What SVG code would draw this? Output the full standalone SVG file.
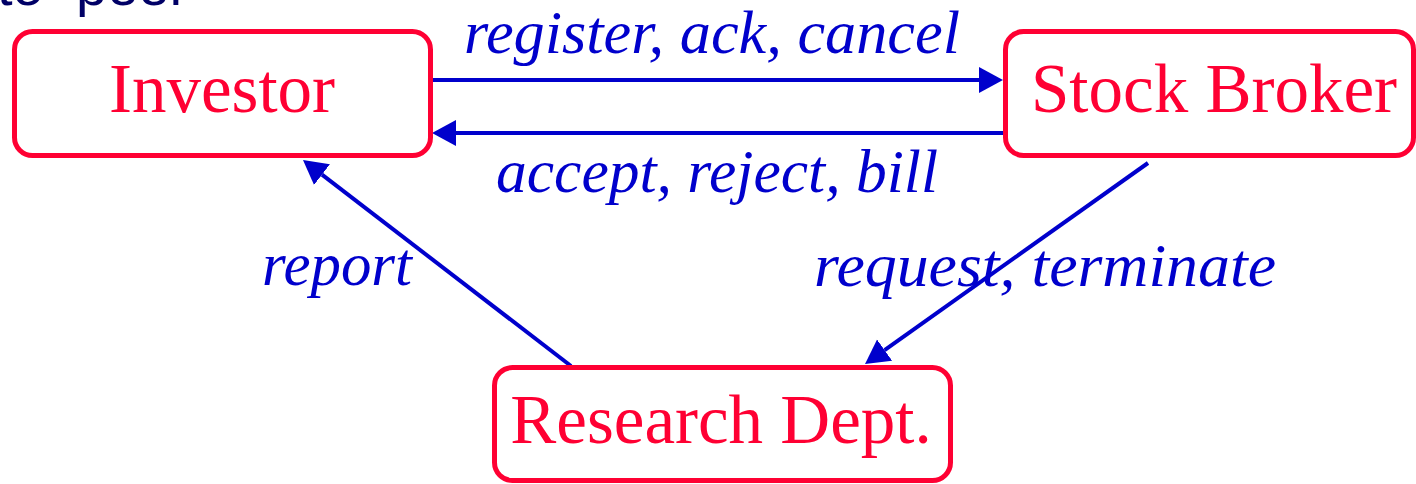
<svg xmlns="http://www.w3.org/2000/svg" width="1416" height="484" viewBox="0 0 1416 484">
  <style>
    .box { fill: #ffffff; stroke: #ff0033; stroke-width: 5; }
    .name { font-family: "Liberation Serif", "DejaVu Serif", serif; font-size: 69px; fill: #ff0033; text-anchor: middle; }
    .msg { font-family: "Liberation Serif", "DejaVu Serif", serif; font-style: italic; font-size: 62px; fill: #0000cc; text-anchor: middle; }
    .link { stroke: #0000cc; stroke-width: 4; fill: none; marker-end: url(#head); }
    .title { font-family: "Liberation Sans", Arial, sans-serif; font-size: 56px; fill: #000066; }
  </style>
  <defs>
    <marker id="head" markerUnits="userSpaceOnUse" markerWidth="26" markerHeight="28" viewBox="0 -14 26 28" refX="0" refY="0" orient="auto">
      <path d="M0,-13 L24,0 L0,13 Z" fill="#0000cc"/>
    </marker>
  </defs>

  <rect width="1416" height="484" fill="#ffffff"/>

  <!-- slide heading, running off the top edge -->
  <text class="title" y="5"><tspan x="-3">to</tspan><tspan x="76">peer</tspan></text>

  <g id="connectors">
    <line class="link" x1="430" y1="80" x2="979" y2="80"/>
    <line class="link" x1="1003" y1="133" x2="456" y2="133"/>
    <line class="link" x1="571" y1="366" x2="322" y2="174.6"/>
    <line class="link" x1="1148" y1="163" x2="884.6" y2="350.1"/>
    <text class="msg" x="712" y="53" textLength="496" lengthAdjust="spacingAndGlyphs">register, ack, cancel</text>
    <text class="msg" x="717" y="192" textLength="442" lengthAdjust="spacingAndGlyphs">accept, reject, bill</text>
    <text class="msg" x="337" y="285" textLength="150" lengthAdjust="spacingAndGlyphs">report</text>
    <text class="msg" x="1045" y="286" textLength="462" lengthAdjust="spacingAndGlyphs">request, terminate</text>
  </g>

  <g id="investor">
    <rect class="box" x="14.5" y="31.5" width="416" height="124" rx="18"/>
    <text class="name" x="222" y="112">Investor</text>
  </g>

  <g id="stock-broker">
    <rect class="box" x="1005.5" y="31.5" width="408" height="124" rx="18"/>
    <text class="name" x="1214" y="112">Stock Broker</text>
  </g>

  <g id="research-dept">
    <rect class="box" x="494.5" y="367.5" width="456" height="113" rx="18"/>
    <text class="name" x="721" y="443">Research Dept.</text>
  </g>
</svg>
